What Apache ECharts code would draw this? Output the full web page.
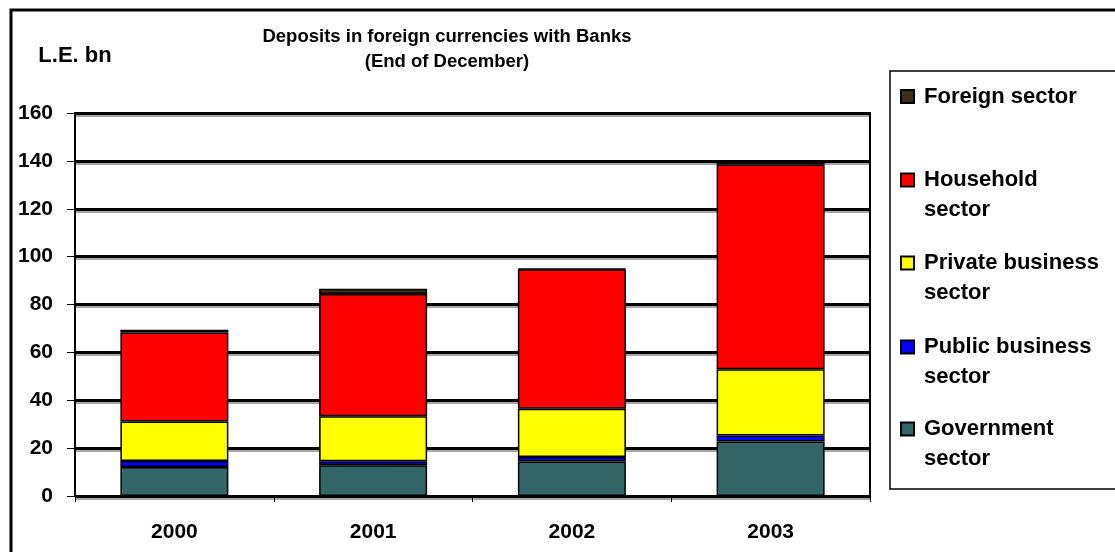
<!DOCTYPE html>
<html>
<head>
<meta charset="utf-8">
<script src="https://cdn.jsdelivr.net/npm/echarts@6/dist/echarts.min.js"></script>
<style>
html,body{margin:0;padding:0;background:#fff;}
#chart{width:1115px;height:552px;}
</style>
</head>
<body>
<div id="chart"></div>
<script>
const categories = ['2000', '2001', '2002', '2003'];
const government = [12.1, 12.8, 14.4, 22.8];
const publicBusiness = [2.5, 1.7, 1.9, 2.5];
const privateBusiness = [16.5, 18.8, 20.2, 27.7];
const household = [37.2, 51.1, 58.2, 85.5];
const foreign = [1.2, 2.2, 0.3, 1.3];
const yTicks = { min: 0, max: 160, interval: 20 };

const FONT = "'Liberation Sans', Arial, sans-serif";
const chart = echarts.init(document.getElementById('chart'));

function bar(name, data, color) {
  return {
    name: name, type: 'bar', stack: 'total', data: data, barWidth: 108,
    itemStyle: { color: color, borderColor: '#000', borderWidth: 1.5 }
  };
}
function legendItem(name, label, top) {
  return {
    data: [name], left: 900, top: top, padding: 0, orient: 'vertical',
    itemWidth: 13, itemHeight: 13, icon: 'rect',
    formatter: function () { return label; },
    textStyle: {
      fontFamily: FONT, fontSize: 22, fontWeight: 'bold', color: '#000',
      lineHeight: 30, padding: [0, 0, 0, 5]
    }
  };
}

chart.setOption({
  backgroundColor: '#fff',
  animation: false,
  title: {
    text: 'Deposits in foreign currencies with Banks\n(End of December)',
    left: 447, top: 24, padding: 0, textAlign: 'center',
    textStyle: { fontFamily: FONT, fontSize: 18.5, fontWeight: 'bold', color: '#000', lineHeight: 25 }
  },
  graphic: [
    { type: 'rect', z: -1, shape: { x: 11, y: 10, width: 1300, height: 700 },
      style: { fill: 'none', stroke: '#000', lineWidth: 3 } },
    { type: 'rect', z: -1, shape: { x: 890, y: 71, width: 400, height: 418 },
      style: { fill: '#fff', stroke: '#000', lineWidth: 1.5 } }
  ],
  legend: [
    legendItem('Foreign sector', 'Foreign sector', 81.5),
    legendItem('Household sector', ' \nHousehold\nsector', 135),
    legendItem('Private business sector', ' \nPrivate business\nsector', 218),
    legendItem('Public business sector', ' \nPublic business\nsector', 302),
    legendItem('Government sector', ' \nGovernment\nsector', 384)
  ],
  grid: { left: 75, right: 245, top: 113, bottom: 56, show: true, borderColor: '#000', borderWidth: 2, backgroundColor: '#fff' },
  xAxis: {
    type: 'category', data: categories,
    axisLine: { lineStyle: { color: '#000', width: 2 } },
    axisTick: { show: true, length: 6, lineStyle: { color: '#000', width: 1 } },
    axisLabel: { fontFamily: FONT, fontSize: 21, fontWeight: 'bold', color: '#000', margin: 26 }
  },
  yAxis: {
    type: 'value', min: yTicks.min, max: yTicks.max, interval: yTicks.interval,
    name: 'L.E. bn', nameLocation: 'end', nameGap: 57,
    nameTextStyle: { fontFamily: FONT, fontSize: 22, fontWeight: 'bold', color: '#000', align: 'center', verticalAlign: 'middle' },
    axisLine: { show: true, lineStyle: { color: '#000', width: 2 } },
    axisTick: { show: true, length: 8, lineStyle: { color: '#000', width: 1 } },
    axisLabel: { fontFamily: FONT, fontSize: 21, fontWeight: 'bold', color: '#000', margin: 22 },
    splitLine: { show: true, lineStyle: { color: '#000', width: 3, shadowColor: 'rgba(0,0,0,0.35)', shadowOffsetY: 2, shadowBlur: 0 } }
  },
  series: [
    bar('Government sector', government, '#336666'),
    bar('Public business sector', publicBusiness, '#0000ff'),
    bar('Private business sector', privateBusiness, '#ffff00'),
    bar('Household sector', household, '#ff0000'),
    bar('Foreign sector', foreign, '#3f2d1c')
  ]
});
</script>
</body>
</html>
